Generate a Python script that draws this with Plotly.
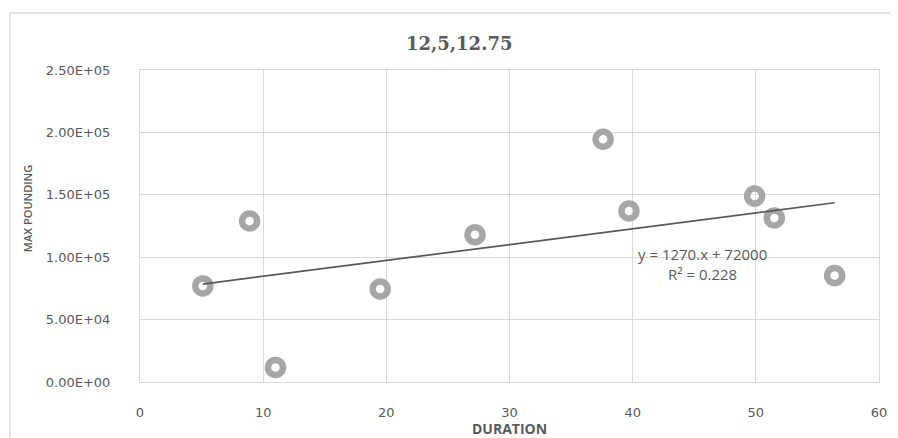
import plotly.graph_objects as go

duration = [5.1, 8.9, 11.0, 19.5, 27.2, 37.6, 39.7, 49.9, 51.5, 56.4]
pounding = [77000, 129000, 11700, 74500, 118000, 194500, 137000, 149000, 131500, 85300]

slope = 1270
intercept = 72000
r2 = 0.228

title_text = "12,5,12.75"
x_title = "DURATION"
y_title = "MAX POUNDING"
x_ticks = [0, 10, 20, 30, 40, 50, 60]
y_ticks = [0, 50000, 100000, 150000, 200000, 250000]
y_tick_text = ["0.00E+00", "5.00E+04", "1.00E+05", "1.50E+05", "2.00E+05", "2.50E+05"]

grey_txt = "#595959"
grid = "#d9d9d9"

fig = go.Figure()
fig.add_trace(go.Scatter(
    x=duration, y=pounding, mode="markers",
    marker=dict(symbol="circle-open", size=15, color="#a6a6a6", line=dict(width=6.5, color="#a6a6a6")),
    showlegend=False, hoverinfo="x+y"))

tx = [min(duration), max(duration)]
ty = [slope * v + intercept for v in tx]
fig.add_trace(go.Scatter(x=tx, y=ty, mode="lines", line=dict(color=grey_txt, width=1.75),
                         showlegend=False, hoverinfo="skip"))

fig.update_layout(
    width=890, height=430,
    margin=dict(l=132, r=19, t=62, b=56),
    paper_bgcolor="white", plot_bgcolor="white",
    title=dict(text="<b>" + title_text + "</b>", x=0.507, xref="container", xanchor="center",
               y=1 - 36 / 430, yref="container", yanchor="middle",
               font=dict(family="DejaVu Serif", size=18, color=grey_txt)),
    xaxis=dict(range=[0, 60], tickvals=x_ticks, showgrid=True, gridcolor=grid, gridwidth=1,
               zeroline=False, showline=True, linecolor=grid, linewidth=1, mirror=True,
               tickfont=dict(family="DejaVu Sans", size=13, color=grey_txt),
               ticks="", ticklabelstandoff=18, fixedrange=True, automargin=False),
    yaxis=dict(range=[0, 250000], tickvals=y_ticks, ticktext=y_tick_text, showgrid=True,
               gridcolor=grid, gridwidth=1, zeroline=False, showline=True, linecolor=grid,
               linewidth=1, mirror=True,
               tickfont=dict(family="DejaVu Sans", size=13, color=grey_txt),
               ticks="", ticklabelstandoff=26, fixedrange=True, automargin=False),
    shapes=[dict(type="rect", xref="paper", yref="paper", x0=-0.176, x1=1.5, y0=-0.6, y1=1.183,
                 line=dict(color=grid, width=1.5), fillcolor="rgba(0,0,0,0)", layer="below")],
    annotations=[
        dict(text="<b>" + x_title + "</b>", xref="paper", yref="paper", x=0.5, y=-0.15,
             xanchor="center", yanchor="middle", showarrow=False,
             font=dict(family="Open Sans", size=14, color=grey_txt)),
        dict(text=y_title, xref="paper", yref="paper", x=-0.153, y=0.557, textangle=-90,
             xanchor="center", yanchor="middle", showarrow=False,
             font=dict(family="Open Sans", size=11, color=grey_txt, weight=600)),
        dict(text="y = %d.x + %d<br>R² = %s" % (slope, intercept, r2), xref="x", yref="y",
             x=45.7, y=94700, xanchor="center", yanchor="middle", showarrow=False,
             align="center",
             font=dict(family="Open Sans", size=15, color=grey_txt)),
    ],
)

fig.write_html("out.html")
